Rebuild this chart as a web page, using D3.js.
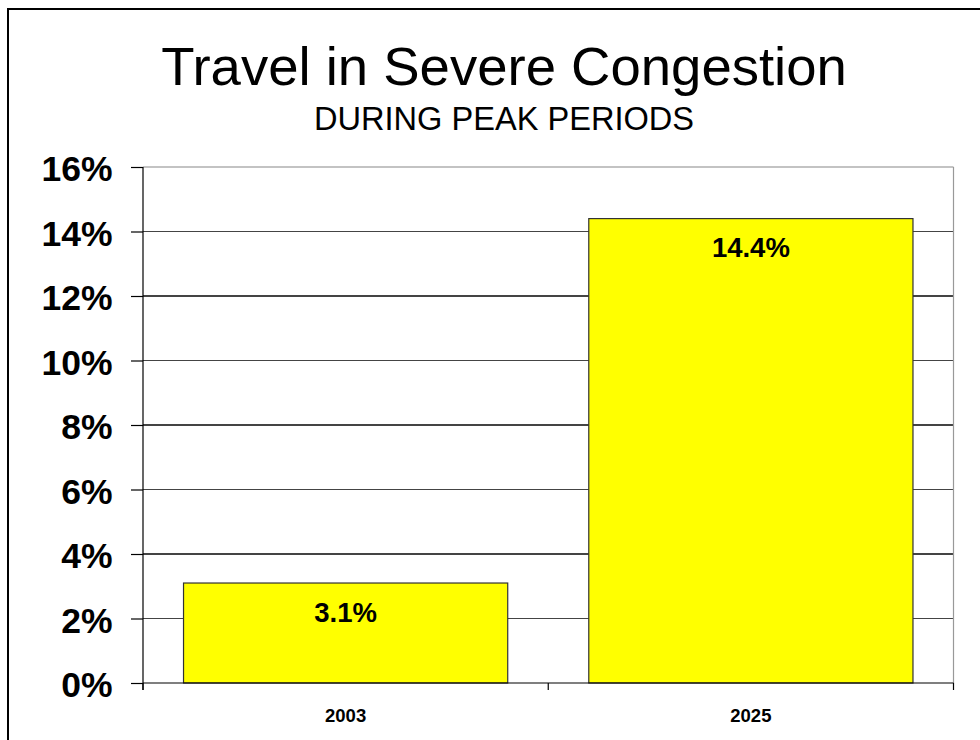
<!DOCTYPE html>
<html>
<head>
<meta charset="utf-8">
<script src="https://cdn.jsdelivr.net/npm/d3@7"></script>
<style>
  html, body { margin: 0; padding: 0; background: #fff; }
  svg { display: block; font-family: Arial, "Liberation Sans", Helvetica, sans-serif; }
</style>
</head>
<body>
<svg id="chart" width="980" height="740"></svg>
<script>
// Share of peak-period travel in severe congestion
const years = ["2003", "2025"];
const shares = [3.1, 14.4];
const shareLabels = ["3.1%", "14.4%"];
const yTicks = [0, 2, 4, 6, 8, 10, 12, 14, 16];

const titleText = "Travel in Severe Congestion";
const subtitleText = "DURING PEAK PERIODS";

const svg = d3.select("#chart");
const W = 980, H = 740;
const plot = { left: 143, top: 167, right: 953.5, bottom: 683 };

// outer frame (runs off the right and bottom edges)
svg.append("rect")
  .attr("x", 8).attr("y", 9)
  .attr("width", W + 20).attr("height", H + 20)
  .attr("fill", "#fff").attr("stroke", "#000").attr("stroke-width", 2);

// titles
svg.append("text")
  .attr("x", 504).attr("y", 85)
  .attr("text-anchor", "middle")
  .attr("font-size", 54.5)
  .attr("fill", "#000")
  .text(titleText);

svg.append("text")
  .attr("x", 504).attr("y", 129.5)
  .attr("text-anchor", "middle")
  .attr("font-size", 32.6)
  .attr("fill", "#000")
  .text(subtitleText);

// scales
const x = d3.scaleBand()
  .domain(years)
  .range([plot.left, plot.right])
  .paddingInner(0.2)
  .paddingOuter(0.1);

const y = d3.scaleLinear()
  .domain([0, 16])
  .range([plot.bottom, plot.top]);

const g = svg.append("g");

// horizontal gridlines
g.append("g")
  .selectAll("line")
  .data(yTicks.filter(d => d > 0 && d < 16))
  .join("line")
  .attr("x1", plot.left).attr("x2", plot.right)
  .attr("y1", d => y(d)).attr("y2", d => y(d))
  .attr("stroke", "#444").attr("stroke-width", 1.2)
  .attr("shape-rendering", "crispEdges");

// plot frame top and right
g.append("line")
  .attr("x1", plot.left).attr("x2", plot.right)
  .attr("y1", y(16)).attr("y2", y(16))
  .attr("stroke", "#888").attr("stroke-width", 1.2);
g.append("line")
  .attr("x1", plot.right).attr("x2", plot.right)
  .attr("y1", plot.top).attr("y2", plot.bottom)
  .attr("stroke", "#999").attr("stroke-width", 1.2);

// bars
g.append("g")
  .selectAll("rect")
  .data(years)
  .join("rect")
  .attr("x", d => x(d))
  .attr("width", x.bandwidth())
  .attr("y", (d, i) => y(shares[i]))
  .attr("height", (d, i) => y(0) - y(shares[i]))
  .attr("fill", "#ffff00")
  .attr("stroke", "#333")
  .attr("stroke-width", 1.2);

// value labels inside bars
g.append("g")
  .selectAll("text")
  .data(years)
  .join("text")
  .attr("x", d => x(d) + x.bandwidth() / 2)
  .attr("y", (d, i) => y(shares[i]) + 38.5)
  .attr("text-anchor", "middle")
  .attr("font-size", 27.5)
  .attr("font-weight", "bold")
  .attr("fill", "#000")
  .text((d, i) => shareLabels[i]);

// y axis
const yAxis = d3.axisLeft(y)
  .tickValues(yTicks)
  .tickSize(12)
  .tickPadding(0)
  .tickFormat(d => d + "%");

const yg = g.append("g")
  .attr("transform", `translate(${plot.left},0)`)
  .call(yAxis);
yg.select(".domain").attr("stroke", "#000").attr("stroke-width", 1.2)
  .attr("d", `M0,${plot.top}V${plot.bottom + 7}`);
yg.selectAll(".tick line").attr("stroke", "#000").attr("stroke-width", 1.2);
yg.selectAll(".tick text")
  .attr("x", -30.5)
  .attr("dy", 13.5)
  .attr("font-size", 35.5)
  .attr("font-weight", "bold")
  .attr("font-family", "Arial, 'Liberation Sans', sans-serif")
  .attr("fill", "#000");

// x axis
const xAxis = d3.axisBottom(x)
  .tickSize(0)
  .tickPadding(0);
const xg = g.append("g")
  .attr("transform", `translate(0,${plot.bottom})`)
  .call(xAxis);
xg.select(".domain").attr("stroke", "#000").attr("stroke-width", 1.2)
  .attr("d", `M${plot.left},0H${plot.right}`);
xg.selectAll(".tick text")
  .attr("y", 39)
  .attr("dy", 0)
  .attr("font-size", 18.5)
  .attr("font-weight", "bold")
  .attr("font-family", "Arial, 'Liberation Sans', sans-serif")
  .attr("fill", "#000");

// category boundary ticks below the baseline
const bounds = [plot.left, x(years[1]) - x.step() * x.paddingInner() / 2, plot.right];
xg.append("g")
  .selectAll("line")
  .data(bounds)
  .join("line")
  .attr("x1", d => d).attr("x2", d => d)
  .attr("y1", 0).attr("y2", 7)
  .attr("stroke", "#000").attr("stroke-width", 1.2);
</script>
</body>
</html>
